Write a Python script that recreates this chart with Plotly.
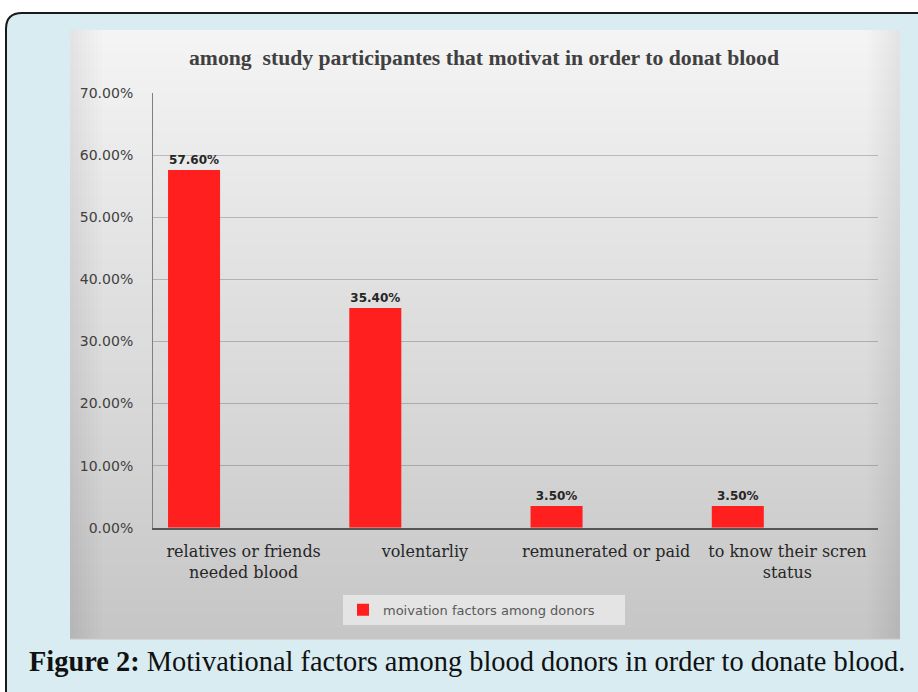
import plotly.graph_objects as go

# ---- data ----
categories = ["relatives or friends<br>needed blood", "volentarliy",
              "remunerated or paid", "to know their scren<br>status"]
values = [0.576, 0.354, 0.035, 0.035]
series_name = "moivation factors among donors"
chart_title = "among\u00a0 study participantes that motivat in order to donat blood"
caption_bold = "Figure 2:"
caption_rest = " Motivational factors among blood donors in order to donate blood."
y_tick_vals = [0.0, 0.1, 0.2, 0.3, 0.4, 0.5, 0.6, 0.7]

W, H = 918, 692
# vertical placement correction for how the page is captured
Y_OFF, Y_SCALE = 8.1, 0.977


def px(x):
    return x / W


def py(y):
    fy = (y - Y_OFF) / Y_SCALE
    return 1 - fy / H


shapes = []
# outer light-blue box with dark border and rounded top-left corner
r = 16
x0, y0 = 6, 13
path = (f"M {px(x0)},{py(720)} L {px(x0)},{py(y0 + r)} "
        f"Q {px(x0)},{py(y0)} {px(x0 + r)},{py(y0)} "
        f"L {px(940)},{py(y0)} L {px(940)},{py(720)} Z")
shapes.append(dict(type="path", xref="paper", yref="paper", path=path,
                   fillcolor="#d8ecf2", line=dict(color="#1a1a1a", width=2),
                   layer="below"))

# inner chart area with vertical grey gradient
ix0, ix1, iy0, iy1 = 70, 900, 30, 639
top_c = (244, 244, 244)
bot_c = (198, 198, 198)
n = 48
step = (iy1 - iy0) / n
for i in range(n):
    t = i / (n - 1)
    c = tuple(int(round(top_c[k] + (bot_c[k] - top_c[k]) * t)) for k in range(3))
    shapes.append(dict(type="rect", xref="paper", yref="paper",
                       x0=px(ix0), x1=px(ix1),
                       y0=py(iy0 + i * step), y1=py(iy0 + (i + 1) * step + 0.6),
                       fillcolor=f"rgb{c}", line=dict(width=0), layer="below"))
# subtle edge darkening on left and right
m = 8
for j in range(m):
    wdt = 4 * (j + 1)
    for (a, b) in ((ix0, ix0 + wdt), (ix1 - wdt, ix1)):
        shapes.append(dict(type="rect", xref="paper", yref="paper",
                           x0=px(a), x1=px(b), y0=py(iy1), y1=py(iy0),
                           fillcolor="rgba(0,0,0,0.009)", line=dict(width=0),
                           layer="below"))

fig = go.Figure()
fig.add_trace(go.Bar(
    x=categories, y=values, name=series_name,
    marker=dict(color="#ff1f1f", line=dict(width=0)),
    width=0.287, offset=-0.417,
    texttemplate="<b>%{y:.2%}</b>", textposition="outside",
    textfont=dict(family="DejaVu Sans", size=12, color="#262626"),
    cliponaxis=False, showlegend=True,
))

annotations = [
    dict(text=f"<b>{chart_title}</b>", x=px(484), y=py(58), xref="paper", yref="paper",
         xanchor="center", yanchor="middle", showarrow=False,
         font=dict(family="Liberation Serif", size=21.7, color="#404040")),
    dict(text=f"<b>{caption_bold}</b>{caption_rest}", x=px(467), y=py(662),
         xref="paper", yref="paper", xanchor="center", yanchor="middle", showarrow=False,
         font=dict(family="Liberation Serif", size=28.4, color="#111111")),
]

fig.update_layout(
    width=W, height=H,
    margin=dict(l=0, r=0, t=0, b=0),
    paper_bgcolor="white", plot_bgcolor="rgba(0,0,0,0)",
    shapes=shapes, annotations=annotations,
    showlegend=True,
    legend=dict(orientation="h", x=px(484), xanchor="center", y=py(595), yanchor="top",
                bgcolor="#e4e4e4", font=dict(family="DejaVu Sans", size=13, color="#595959"),
                itemwidth=30, entrywidth=237),
    xaxis=dict(domain=[px(153), px(878)], type="category",
               showline=True, linecolor="#555555", linewidth=2,
               ticks="", ticklabelstandoff=8,
               tickfont=dict(family="DejaVu Serif", size=16, color="#262626"),
               showgrid=False, zeroline=False),
    yaxis=dict(domain=[py(528), py(93)], range=[0, 0.7],
               tickvals=y_tick_vals, tickformat=".2%",
               showline=True, linecolor="#808080", linewidth=1,
               ticks="", ticklabelstandoff=16,
               tickfont=dict(family="DejaVu Sans", size=14, color="#404040"),
               showgrid=True, gridcolor="rgba(70,70,70,0.3)", gridwidth=1,
               zeroline=False),
)

fig.write_html("out.html", config={"displayModeBar": False},
               post_script="document.body.style.margin='0';document.body.style.padding='0';")
